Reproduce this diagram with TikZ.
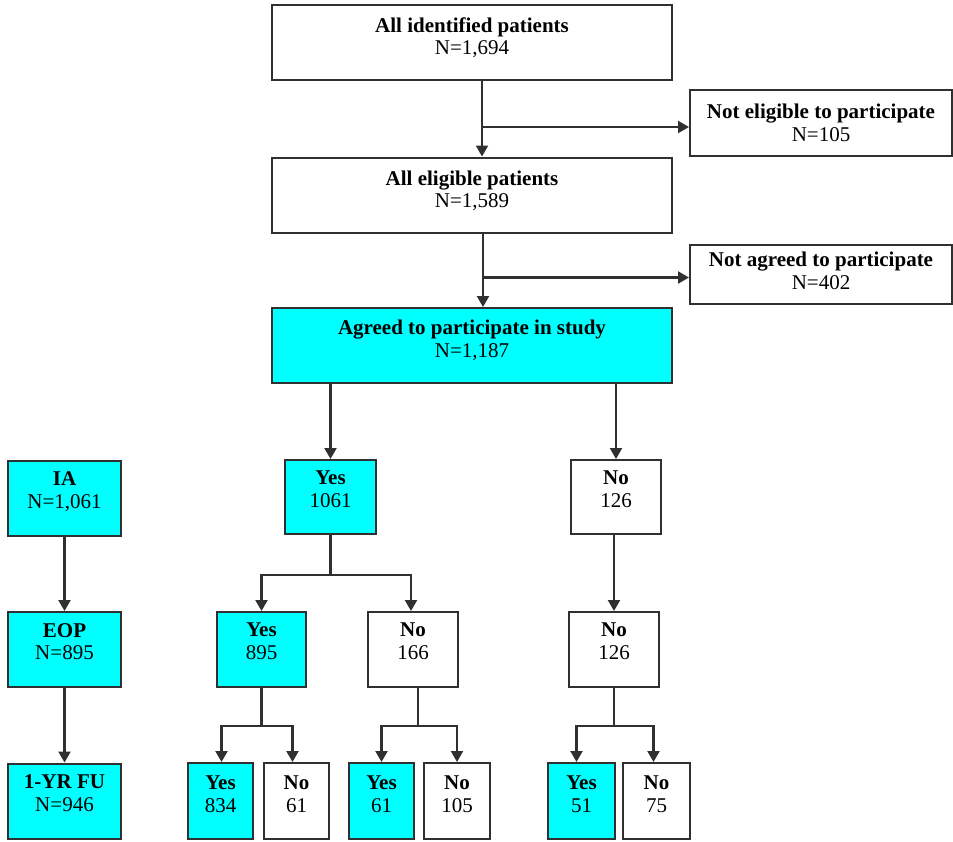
\documentclass[tikz,border=0pt]{standalone}
\usepackage{fontspec}
\setmainfont{Liberation Serif}
\usetikzlibrary{arrows.meta,positioning}
\definecolor{boxcyan}{HTML}{00FFFF}
\definecolor{edge}{HTML}{303030}
\begin{document}
\begin{tikzpicture}[x=1pt,y=-1pt,
  box/.style={draw=edge,line width=2pt,inner sep=0pt,minimum width=#1},
  box/.default=90pt,
  tall/.style={minimum height=75pt},
  hi/.style={fill=boxcyan},
  txt/.style={anchor=north,align=center,inner sep=0pt,font=\fontsize{21}{22.5}\selectfont},
  arr/.style={draw=edge,line width=2.2pt,-{Triangle[width=12pt,length=11pt]}},
  ln/.style={draw=edge,line width=2.2pt}]
\useasboundingbox (0,0) rectangle (953,841);

% screening stage
\node[box=400pt,tall] (all) at (472,42) {};
\node[txt] (all-t) at ([yshift=-14pt]all.north) {\textbf{All identified patients}\\N=1,694};
\node[box=262pt,minimum height=66pt] (notelig) at (821,123) {};
\node[txt] (notelig-t) at ([yshift=-15pt]notelig.north) {\textbf{Not eligible to participate}\\N=105};
\node[box=400pt,tall] (elig) at (472,195) {};
\node[txt] (elig-t) at ([yshift=-14pt]elig.north) {\textbf{All eligible patients}\\N=1,589};
\node[box=262pt,minimum height=59pt] (notagr) at (821,274.5) {};
\node[txt] (notagr-t) at ([yshift=-8pt]notagr.north) {\textbf{Not agreed to participate}\\N=402};
\node[box=400pt,tall,hi] (agreed) at (472,345.5) {};
\node[txt] (agreed-t) at ([yshift=-13pt]agreed.north) {\textbf{Agreed to participate in study}\\N=1,187};

% left column
\node[box=113pt,tall,hi] (ia) at (64.5,498) {};
\node[txt] (ia-t) at ([yshift=-12pt]ia.north) {\textbf{IA}\\N=1,061};
\node[box=113pt,tall,hi] (eop) at (64.5,649.5) {};
\node[txt] (eop-t) at ([yshift=-12pt]eop.north) {\textbf{EOP}\\N=895};
\node[box=113pt,tall,hi] (fu) at (64.5,801) {};
\node[txt] (fu-t) at ([yshift=-12pt]fu.north) {\textbf{1-YR FU}\\N=946};

% second level
\node[box=91pt,minimum height=74pt,hi] (yes1) at (330.5,497) {};
\node[txt] (yes1-t) at ([yshift=-12pt]yes1.north) {\textbf{Yes}\\1061};
\node[box=90pt,minimum height=74pt] (no1) at (616,497) {};
\node[txt] (no1-t) at ([yshift=-12pt]no1.north) {\textbf{No}\\126};

% third level
\node[box=89pt,tall,hi] (yes2) at (261.5,649.5) {};
\node[txt] (yes2-t) at ([yshift=-12pt]yes2.north) {\textbf{Yes}\\895};
\node[box=90pt,tall] (no2) at (413,649.5) {};
\node[txt] (no2-t) at ([yshift=-12pt]no2.north) {\textbf{No}\\166};
\node[box=90pt,tall] (no3) at (614,649.5) {};
\node[txt] (no3-t) at ([yshift=-12pt]no3.north) {\textbf{No}\\126};

% fourth level
\node[box=65pt,minimum height=76pt,hi] (yes834) at (220.5,801) {};
\node[txt] (yes834-t) at ([yshift=-14pt]yes834.north) {\textbf{Yes}\\834};
\node[box=65pt,minimum height=76pt] (no61) at (296.5,801) {};
\node[txt] (no61-t) at ([yshift=-14pt]no61.north) {\textbf{No}\\61};
\node[box=65pt,minimum height=76pt,hi] (yes61) at (381.5,801) {};
\node[txt] (yes61-t) at ([yshift=-14pt]yes61.north) {\textbf{Yes}\\61};
\node[box=66pt,minimum height=76pt] (no105) at (457,801) {};
\node[txt] (no105-t) at ([yshift=-14pt]no105.north) {\textbf{No}\\105};
\node[box=67pt,minimum height=76pt,hi] (yes51) at (581.5,801) {};
\node[txt] (yes51-t) at ([yshift=-14pt]yes51.north) {\textbf{Yes}\\51};
\node[box=67pt,minimum height=76pt] (no75) at (656.5,801) {};
\node[txt] (no75-t) at ([yshift=-14pt]no75.north) {\textbf{No}\\75};

% connectors
\draw[arr] ([xshift=10pt]all.south) -- ([xshift=10pt]elig.north);
\coordinate (b1) at ([xshift=10pt]all.south |- notelig.west);
\draw[arr] ([yshift=-4pt]b1) -- ([yshift=-4pt]notelig.west);
\draw[arr] ([xshift=11pt]elig.south) -- ([xshift=11pt]agreed.north);
\coordinate (b2) at ([xshift=11pt]elig.south |- notagr.west);
\draw[arr] ([yshift=-3pt]b2) -- ([yshift=-3pt]notagr.west);
\draw[arr] (agreed.south -| yes1.north) -- (yes1.north);
\draw[arr] (agreed.south -| no1.north) -- (no1.north);

\draw[arr] (ia) -- (eop);
\draw[arr] (eop) -- (fu);

\draw[ln] (yes1.south) -- ++(0,40) coordinate (s1);
\draw[arr] (s1) -| (yes2.north);
\draw[arr] (s1) -| ([xshift=-2pt]no2.north);
\draw[arr] (no1.south -| no3.north) -- (no3.north);

\draw[ln] (yes2.south) -- ++(0,38) coordinate (s2);
\draw[arr] (s2) -| ([xshift=1pt]yes834.north);
\draw[arr] (s2) -| ([xshift=-4pt]no61.north);
\draw[ln] (no2.south -| 418,0) -- ++(0,38) coordinate (s3);
\draw[arr] (s3) -| (yes61.north);
\draw[arr] (s3) -| (no105.north);
\draw[ln] (no3.south) -- ++(0,38) coordinate (s4);
\draw[arr] (s4) -| ([xshift=-5pt]yes51.north);
\draw[arr] (s4) -| ([xshift=-3pt]no75.north);
\end{tikzpicture}
\end{document}
